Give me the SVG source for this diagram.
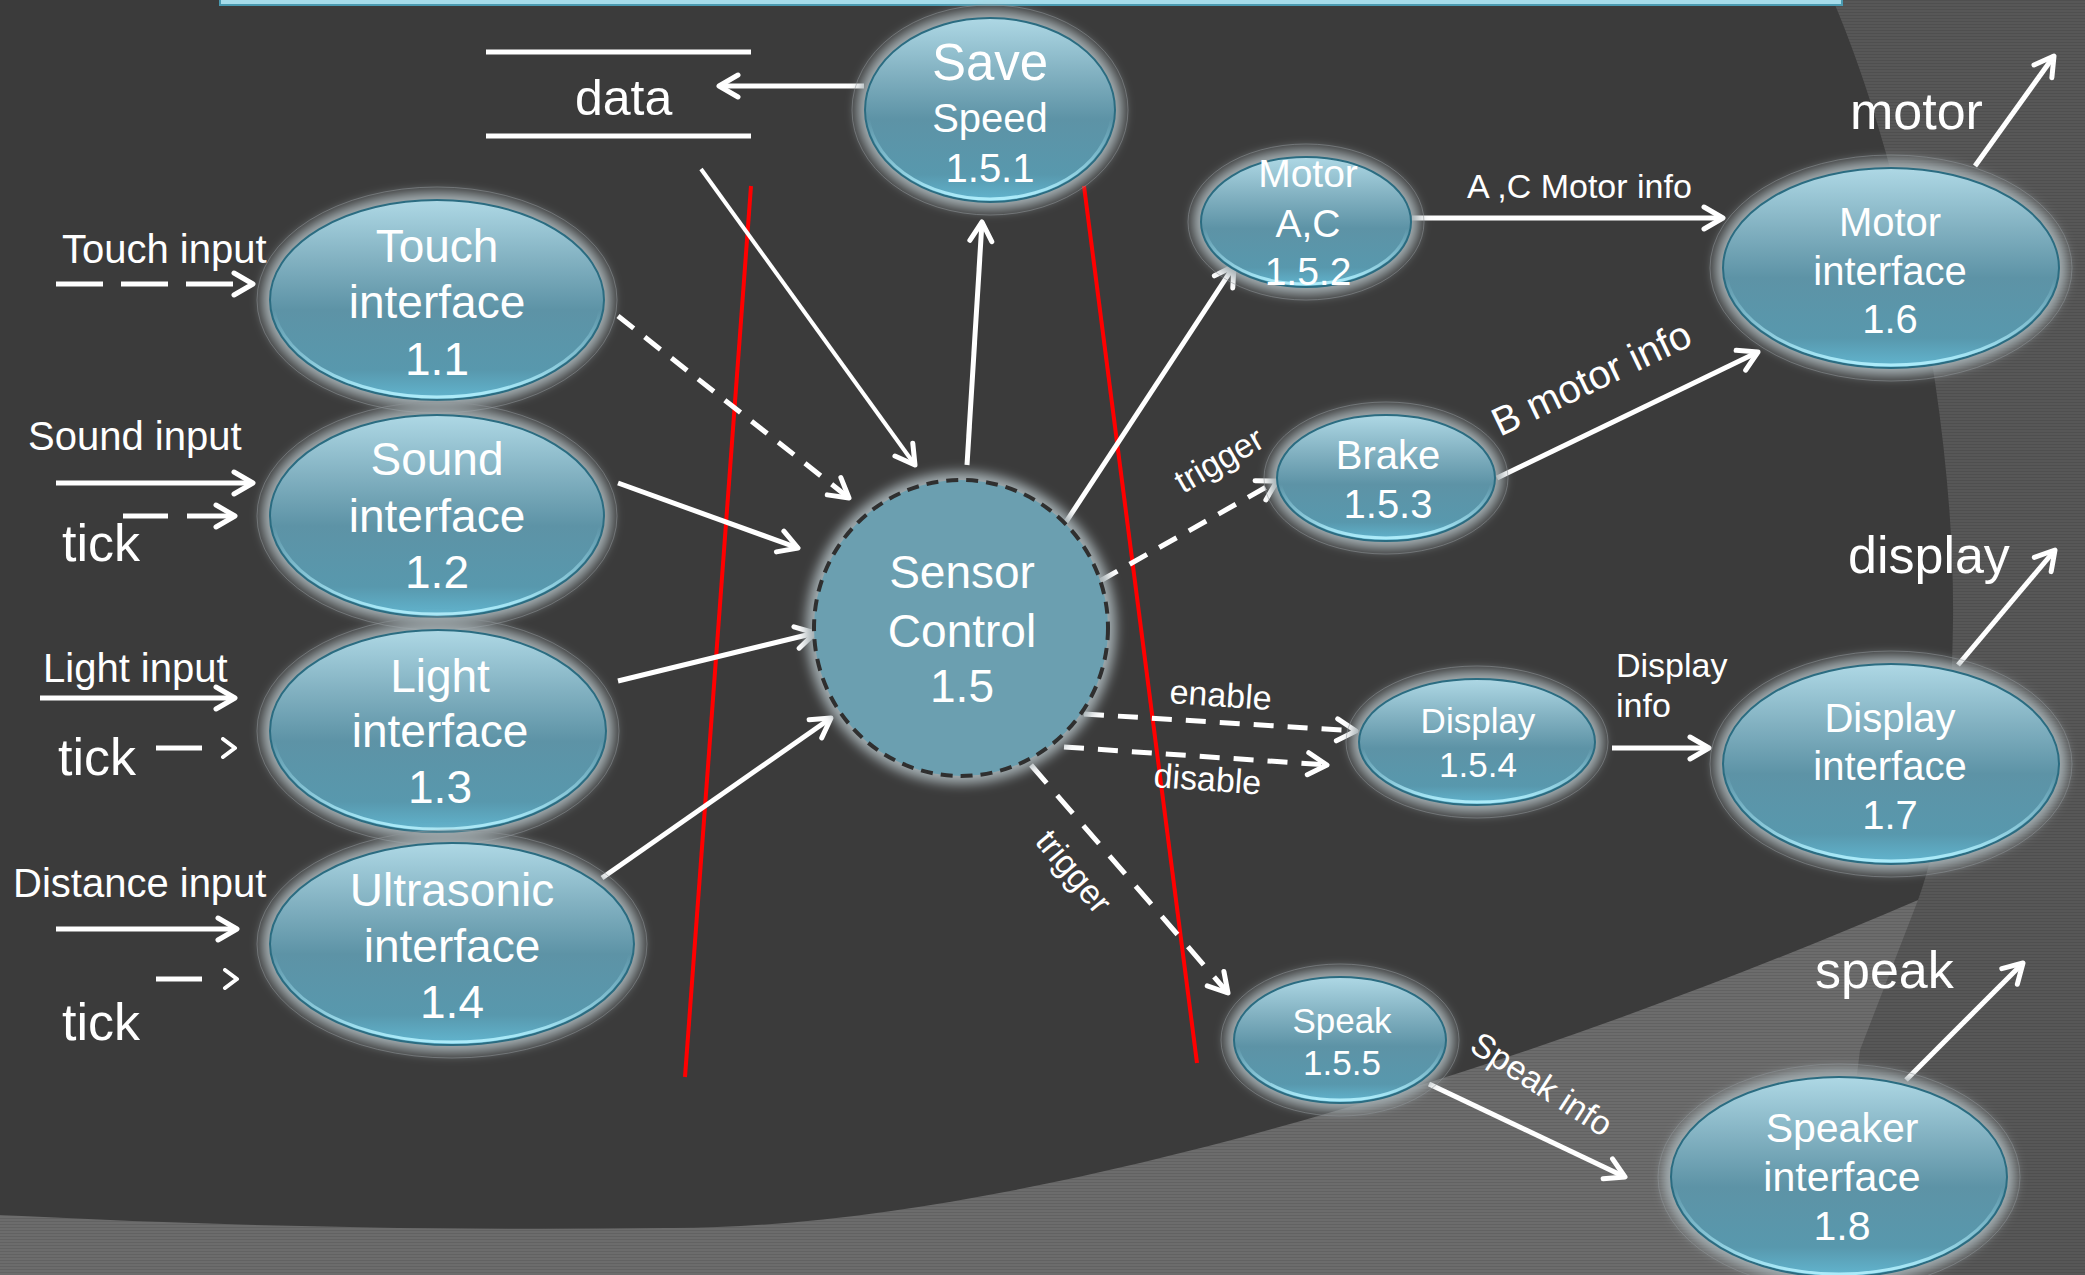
<svg xmlns="http://www.w3.org/2000/svg" width="2085" height="1275" viewBox="0 0 2085 1275">
  <defs>
    <style>
      .lbl { font-family: "Liberation Sans", Arial, sans-serif; fill: #ffffff; }
      .mid { text-anchor: middle; }
      .body { fill: url(#nodeFill); stroke: #2b6c81; stroke-width: 2; }
      .rim { fill: none; stroke: url(#rimGrad); stroke-width: 3; }
      .halo { fill: #a3adb1; filter: url(#soft); }
      .halo-edge { fill: none; stroke: #8e9497; stroke-width: 1; opacity: 0.55; }
      .conn { stroke: #ffffff; stroke-width: 5; fill: none; marker-end: url(#arrow); }
      .thin { stroke-width: 4; }
      .dash { stroke-dasharray: 20 14; }
      .red { stroke: #ff0000; stroke-width: 4; fill: none; }
    </style>
    <linearGradient id="nodeFill" x1="0" y1="0" x2="0" y2="1">
      <stop offset="0" stop-color="#aed8e5"/>
      <stop offset="0.3" stop-color="#82b1c1"/>
      <stop offset="0.55" stop-color="#5d93a6"/>
      <stop offset="0.85" stop-color="#5898ad"/>
      <stop offset="1" stop-color="#62b6d0"/>
    </linearGradient>
    <linearGradient id="rimGrad" x1="0" y1="0" x2="0" y2="1">
      <stop offset="0" stop-color="#b0f0ff" stop-opacity="0"/>
      <stop offset="0.55" stop-color="#b0f0ff" stop-opacity="0"/>
      <stop offset="1" stop-color="#b6f2ff" stop-opacity="0.9"/>
    </linearGradient>
    <pattern id="stripeMid" width="4" height="3" patternUnits="userSpaceOnUse">
      <rect width="4" height="3" fill="#575757"/>
      <rect width="4" height="1" fill="#4f4f4f"/>
    </pattern>
    <pattern id="stripeLight" width="4" height="3" patternUnits="userSpaceOnUse">
      <rect width="4" height="3" fill="#6c6c6c"/>
      <rect width="4" height="1" fill="#626262"/>
    </pattern>
    <filter id="soft" x="-20%" y="-20%" width="140%" height="140%">
      <feGaussianBlur stdDeviation="6"/>
    </filter>
    <marker id="arrow" markerUnits="userSpaceOnUse" viewBox="0 0 26 28" markerWidth="26" markerHeight="28" refX="22" refY="14" orient="auto">
      <path d="M3,3 L22,14 L3,25" fill="none" stroke="#ffffff" stroke-width="5" stroke-linecap="round" stroke-linejoin="round"/>
    </marker>
    <marker id="arrowSmall" markerUnits="userSpaceOnUse" viewBox="0 0 18 22" markerWidth="18" markerHeight="22" refX="15" refY="11" orient="auto">
      <path d="M3,2 L15,11 L3,20" fill="none" stroke="#ffffff" stroke-width="4" stroke-linecap="round" stroke-linejoin="round"/>
    </marker>
  </defs>

  <!-- background: grey base, lighter lower band, dark main field -->
  <rect x="0" y="0" width="2085" height="1275" fill="url(#stripeMid)"/>
  <path d="M0,1150 L1918,900 L1860,1050 L1832,1275 L0,1275 Z" fill="url(#stripeLight)"/>
  <path d="M0,0 L1833,0 C1905,170 1955,420 1953,620 C1951,760 1940,840 1918,900 C1500,1080 1000,1230 665,1228 Q330,1232 0,1215 Z" fill="#3b3b3b"/>
  <rect x="220" y="-4" width="1622" height="9" fill="#a6dcea" stroke="#4a9ab0" stroke-width="2"/>

  <!-- boundary lines -->
  <line class="red" x1="751" y1="186" x2="685" y2="1077"/>
  <line class="red" x1="1084" y1="186" x2="1197" y2="1063"/>

  <!-- data store -->
  <g id="store-data">
    <line x1="486" y1="52" x2="751" y2="52" stroke="#ffffff" stroke-width="5"/>
    <line x1="486" y1="136" x2="751" y2="136" stroke="#ffffff" stroke-width="5"/>
    <text class="lbl" x="575" y="115" font-size="50">data</text>
  </g>

  <!-- connectors -->
  <g id="connectors">
    <line class="conn" x1="56" y1="284" x2="253" y2="284" stroke-dasharray="47 18"/>
    <line class="conn" x1="56" y1="483" x2="253" y2="483"/>
    <line class="conn" x1="123" y1="516" x2="235" y2="516" stroke-dasharray="45 19"/>
    <line class="conn" x1="40" y1="698" x2="235" y2="698"/>
    <line class="conn" x1="156" y1="748" x2="235" y2="748" stroke-dasharray="46 40" style="marker-end:url(#arrowSmall)"/>
    <line class="conn" x1="56" y1="929" x2="237" y2="929"/>
    <line class="conn" x1="156" y1="979" x2="237" y2="979" stroke-dasharray="46 40" style="marker-end:url(#arrowSmall)"/>

    <line class="conn dash" x1="618" y1="316" x2="849" y2="498"/>
    <line class="conn" x1="618" y1="483" x2="798" y2="548"/>
    <line class="conn" x1="618" y1="681" x2="815" y2="633"/>
    <line class="conn" x1="602" y1="878" x2="831" y2="718"/>
    <line class="conn thin" x1="701" y1="169" x2="915" y2="465"/>
    <line class="conn" x1="967" y1="465" x2="982" y2="222"/>
    <line class="conn" x1="864" y1="86" x2="719" y2="86"/>

    <line class="conn" x1="1064" y1="525" x2="1234" y2="266"/>
    <line class="conn" x1="1412" y1="218" x2="1723" y2="218"/>
    <line class="conn dash" x1="1100" y1="581" x2="1277" y2="481"/>
    <line class="conn" x1="1497" y1="478" x2="1758" y2="352"/>
    <line class="conn dash" x1="1084" y1="714" x2="1356" y2="731"/>
    <line class="conn dash" x1="1064" y1="747" x2="1327" y2="765"/>
    <line class="conn" x1="1031" y1="765" x2="1228" y2="993" stroke-dasharray="24 16"/>
    <line class="conn" x1="1612" y1="748" x2="1709" y2="748"/>
    <line class="conn" x1="1429" y1="1084" x2="1625" y2="1177"/>

    <line class="conn" x1="1975" y1="166" x2="2054" y2="56"/>
    <line class="conn" x1="1958" y1="665" x2="2055" y2="550"/>
    <line class="conn" x1="1906" y1="1080" x2="2023" y2="963"/>
  </g>

  <!-- connector labels -->
  <g id="labels">
    <text class="lbl" x="62" y="263" font-size="40">Touch input</text>
    <text class="lbl" x="28" y="450" font-size="40">Sound input</text>
    <text class="lbl" x="62" y="561" font-size="52">tick</text>
    <text class="lbl" x="43" y="682" font-size="40">Light input</text>
    <text class="lbl" x="58" y="775" font-size="52">tick</text>
    <text class="lbl" x="13" y="897" font-size="40">Distance input</text>
    <text class="lbl" x="62" y="1040" font-size="52">tick</text>
    <text class="lbl" x="1467" y="198" font-size="34">A ,C Motor info</text>
    <text class="lbl" font-size="40" transform="translate(1500,437) rotate(-25.5)">B motor info</text>
    <text class="lbl" font-size="34" transform="translate(1183,494) rotate(-30)">trigger</text>
    <text class="lbl" font-size="34" transform="translate(1169,703) rotate(4)">enable</text>
    <text class="lbl" font-size="34" transform="translate(1153,787) rotate(4)">disable</text>
    <text class="lbl" font-size="34" transform="translate(1034,842) rotate(50)">trigger</text>
    <text class="lbl" x="1616" y="677" font-size="34">Display</text>
    <text class="lbl" x="1616" y="717" font-size="34">info</text>
    <text class="lbl" font-size="34" transform="translate(1468,1050) rotate(33)">Speak info</text>
    <text class="lbl" x="1850" y="129" font-size="52">motor</text>
    <text class="lbl" x="1848" y="573" font-size="52">display</text>
    <text class="lbl" x="1815" y="988" font-size="52">speak</text>
  </g>

  <!-- processes -->
  <g id="node-1-5-1">
    <ellipse class="halo" cx="990" cy="110" rx="133" ry="100"/>
    <ellipse class="halo-edge" cx="990" cy="110" rx="138" ry="105"/>
    <ellipse class="body" cx="990" cy="110" rx="125" ry="92"/>
    <ellipse class="rim" cx="990" cy="110" rx="122" ry="89"/>
    <text class="lbl mid" x="990" y="80" font-size="51">Save</text>
    <text class="lbl mid" x="990" y="132" font-size="40">Speed</text>
    <text class="lbl mid" x="990" y="182" font-size="40">1.5.1</text>
  </g>

  <g id="node-1-1">
    <ellipse class="halo" cx="437" cy="300" rx="175" ry="108"/>
    <ellipse class="halo-edge" cx="437" cy="300" rx="180" ry="113"/>
    <ellipse class="body" cx="437" cy="300" rx="167" ry="100"/>
    <ellipse class="rim" cx="437" cy="300" rx="164" ry="97"/>
    <text class="lbl mid" x="437" y="262" font-size="46">Touch</text>
    <text class="lbl mid" x="437" y="318" font-size="46">interface</text>
    <text class="lbl mid" x="437" y="375" font-size="46">1.1</text>
  </g>

  <g id="node-1-2">
    <ellipse class="halo" cx="437" cy="516" rx="175" ry="109"/>
    <ellipse class="halo-edge" cx="437" cy="516" rx="180" ry="114"/>
    <ellipse class="body" cx="437" cy="516" rx="167" ry="101"/>
    <ellipse class="rim" cx="437" cy="516" rx="164" ry="98"/>
    <text class="lbl mid" x="437" y="475" font-size="46">Sound</text>
    <text class="lbl mid" x="437" y="532" font-size="46">interface</text>
    <text class="lbl mid" x="437" y="588" font-size="46">1.2</text>
  </g>

  <g id="node-1-3">
    <ellipse class="halo" cx="438" cy="731" rx="176" ry="109"/>
    <ellipse class="halo-edge" cx="438" cy="731" rx="181" ry="114"/>
    <ellipse class="body" cx="438" cy="731" rx="168" ry="101"/>
    <ellipse class="rim" cx="438" cy="731" rx="165" ry="98"/>
    <text class="lbl mid" x="440" y="692" font-size="46">Light</text>
    <text class="lbl mid" x="440" y="747" font-size="46">interface</text>
    <text class="lbl mid" x="440" y="803" font-size="46">1.3</text>
  </g>

  <g id="node-1-4">
    <ellipse class="halo" cx="452" cy="944" rx="190" ry="109"/>
    <ellipse class="halo-edge" cx="452" cy="944" rx="195" ry="114"/>
    <ellipse class="body" cx="452" cy="944" rx="182" ry="101"/>
    <ellipse class="rim" cx="452" cy="944" rx="179" ry="98"/>
    <text class="lbl mid" x="452" y="906" font-size="46">Ultrasonic</text>
    <text class="lbl mid" x="452" y="962" font-size="46">interface</text>
    <text class="lbl mid" x="452" y="1018" font-size="46">1.4</text>
  </g>

  <g id="node-1-5">
    <ellipse class="halo" cx="961" cy="628" rx="155" ry="156"/>
    <ellipse cx="961" cy="628" rx="147" ry="148" fill="#6b9fb0" stroke="#2f2f2f" stroke-width="4" stroke-dasharray="12 8"/>
    <text class="lbl mid" x="962" y="588" font-size="46">Sensor</text>
    <text class="lbl mid" x="962" y="647" font-size="46">Control</text>
    <text class="lbl mid" x="962" y="702" font-size="46">1.5</text>
  </g>

  <g id="node-1-5-2">
    <ellipse class="halo" cx="1306" cy="222" rx="113" ry="73"/>
    <ellipse class="halo-edge" cx="1306" cy="222" rx="118" ry="78"/>
    <ellipse class="body" cx="1306" cy="222" rx="105" ry="65"/>
    <ellipse class="rim" cx="1306" cy="222" rx="102" ry="62"/>
    <text class="lbl mid" x="1308" y="187" font-size="39">Motor</text>
    <text class="lbl mid" x="1308" y="237" font-size="39">A,C</text>
    <text class="lbl mid" x="1308" y="285" font-size="39">1.5.2</text>
  </g>

  <g id="node-1-5-3">
    <ellipse class="halo" cx="1386" cy="478" rx="117" ry="71"/>
    <ellipse class="halo-edge" cx="1386" cy="478" rx="122" ry="76"/>
    <ellipse class="body" cx="1386" cy="478" rx="109" ry="63"/>
    <ellipse class="rim" cx="1386" cy="478" rx="106" ry="60"/>
    <text class="lbl mid" x="1388" y="469" font-size="40">Brake</text>
    <text class="lbl mid" x="1388" y="518" font-size="40">1.5.3</text>
  </g>

  <g id="node-1-5-4">
    <ellipse class="halo" cx="1477" cy="742" rx="126" ry="71"/>
    <ellipse class="halo-edge" cx="1477" cy="742" rx="131" ry="76"/>
    <ellipse class="body" cx="1477" cy="742" rx="118" ry="63"/>
    <ellipse class="rim" cx="1477" cy="742" rx="115" ry="60"/>
    <text class="lbl mid" x="1478" y="733" font-size="35">Display</text>
    <text class="lbl mid" x="1478" y="777" font-size="35">1.5.4</text>
  </g>

  <g id="node-1-5-5">
    <ellipse class="halo" cx="1340" cy="1040" rx="114" ry="71"/>
    <ellipse class="halo-edge" cx="1340" cy="1040" rx="119" ry="76"/>
    <ellipse class="body" cx="1340" cy="1040" rx="106" ry="63"/>
    <ellipse class="rim" cx="1340" cy="1040" rx="103" ry="60"/>
    <text class="lbl mid" x="1342" y="1033" font-size="35">Speak</text>
    <text class="lbl mid" x="1342" y="1075" font-size="35">1.5.5</text>
  </g>

  <g id="node-1-6">
    <ellipse class="halo" cx="1891" cy="268" rx="176" ry="108"/>
    <ellipse class="halo-edge" cx="1891" cy="268" rx="181" ry="113"/>
    <ellipse class="body" cx="1891" cy="268" rx="168" ry="100"/>
    <ellipse class="rim" cx="1891" cy="268" rx="165" ry="97"/>
    <text class="lbl mid" x="1890" y="236" font-size="40">Motor</text>
    <text class="lbl mid" x="1890" y="285" font-size="40">interface</text>
    <text class="lbl mid" x="1890" y="333" font-size="40">1.6</text>
  </g>

  <g id="node-1-7">
    <ellipse class="halo" cx="1891" cy="764" rx="176" ry="108"/>
    <ellipse class="halo-edge" cx="1891" cy="764" rx="181" ry="113"/>
    <ellipse class="body" cx="1891" cy="764" rx="168" ry="100"/>
    <ellipse class="rim" cx="1891" cy="764" rx="165" ry="97"/>
    <text class="lbl mid" x="1890" y="732" font-size="40">Display</text>
    <text class="lbl mid" x="1890" y="780" font-size="40">interface</text>
    <text class="lbl mid" x="1890" y="829" font-size="40">1.7</text>
  </g>

  <g id="node-1-8">
    <ellipse class="halo" cx="1839" cy="1177" rx="176" ry="108"/>
    <ellipse class="halo-edge" cx="1839" cy="1177" rx="181" ry="113"/>
    <ellipse class="body" cx="1839" cy="1177" rx="168" ry="100"/>
    <ellipse class="rim" cx="1839" cy="1177" rx="165" ry="97"/>
    <text class="lbl mid" x="1842" y="1142" font-size="41">Speaker</text>
    <text class="lbl mid" x="1842" y="1191" font-size="41">interface</text>
    <text class="lbl mid" x="1842" y="1240" font-size="41">1.8</text>
  </g>
</svg>
